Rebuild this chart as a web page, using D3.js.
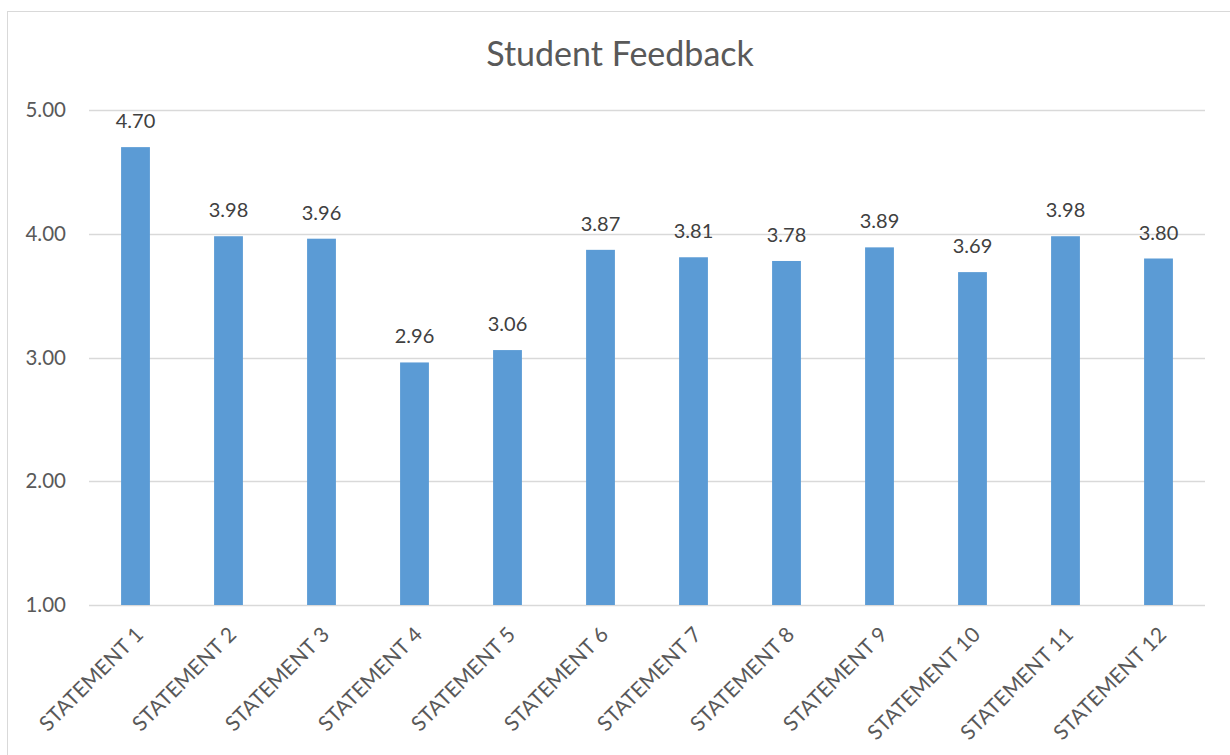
<html>
<head>
  <script src="https://d3js.org/d3.v7.min.js"></script>
  <style>
    body { margin: 0; background: #fff; }
    text { font-family: Lato, "Open Sans", sans-serif; }
  </style>
</head>
<body>
<script>
var categories = ["STATEMENT 1", "STATEMENT 2", "STATEMENT 3", "STATEMENT 4", "STATEMENT 5", "STATEMENT 6",
                  "STATEMENT 7", "STATEMENT 8", "STATEMENT 9", "STATEMENT 10", "STATEMENT 11", "STATEMENT 12"];
var values = [4.70, 3.98, 3.96, 2.96, 3.06, 3.87, 3.81, 3.78, 3.89, 3.69, 3.98, 3.80];
var yTicks = [1, 2, 3, 4, 5];

var width = 1230, height = 755;
var margin = {left: 89, right: 25, top: 110, bottom: 150};

var svg = d3.select("body").append("svg")
    .attr("width", width)
    .attr("height", height);

// chart border
svg.append("rect")
    .attr("x", 7.5).attr("y", 11.5)
    .attr("width", 1240).attr("height", 760)
    .attr("fill", "#fff")
    .attr("stroke", "#d9d9d9");

var x = d3.scaleBand()
    .domain(categories)
    .range([margin.left, width - margin.right])
    .paddingInner(0.69)
    .paddingOuter(0.345);

var y = d3.scaleLinear()
    .domain([1, 5])
    .range([605, 110]);

// gridlines
svg.append("g")
  .selectAll("line")
  .data(yTicks)
  .enter().append("line")
    .attr("x1", margin.left)
    .attr("x2", width - margin.right)
    .attr("y1", function(d) { return Math.round(y(d)) + 0.5; })
    .attr("y2", function(d) { return Math.round(y(d)) + 0.5; })
    .attr("stroke", "#d9d9d9")
    .attr("stroke-width", 1.5);

// y axis labels
svg.append("g")
  .selectAll("text")
  .data(yTicks)
  .enter().append("text")
    .attr("x", 66)
    .attr("y", function(d) { return y(d); })
    .attr("dy", "0.35em")
    .attr("text-anchor", "end")
    .attr("fill", "#595959")
    .attr("font-size", 20.5)
    .text(function(d) { return d.toFixed(2); });

// bars
svg.append("g")
  .selectAll("rect")
  .data(values)
  .enter().append("rect")
    .attr("x", function(d, i) { return x(categories[i]); })
    .attr("width", x.bandwidth())
    .attr("y", function(d) { return y(d); })
    .attr("height", function(d) { return y(1) - y(d); })
    .attr("fill", "#5b9bd5");

// data labels
svg.append("g")
  .selectAll("text")
  .data(values)
  .enter().append("text")
    .attr("x", function(d, i) { return x(categories[i]) + x.bandwidth() / 2; })
    .attr("y", function(d) { return y(d) - 19; })
    .attr("text-anchor", "middle")
    .attr("fill", "#404040")
    .attr("font-size", 20)
    .text(function(d) { return d.toFixed(2); });

// x labels
svg.append("g")
  .selectAll("text")
  .data(categories)
  .enter().append("text")
    .attr("transform", function(d) {
      return "translate(" + (x(d) + x.bandwidth() / 2 + 9) + ",636) rotate(-45)";
    })
    .attr("text-anchor", "end")
    .attr("fill", "#595959")
    .attr("font-size", 21)
    .text(function(d) { return d; });

// title
svg.append("text")
    .attr("x", 620)
    .attr("y", 66)
    .attr("text-anchor", "middle")
    .attr("fill", "#595959")
    .attr("font-size", 34)
    .text("Student Feedback");
</script>
</body>
</html>
